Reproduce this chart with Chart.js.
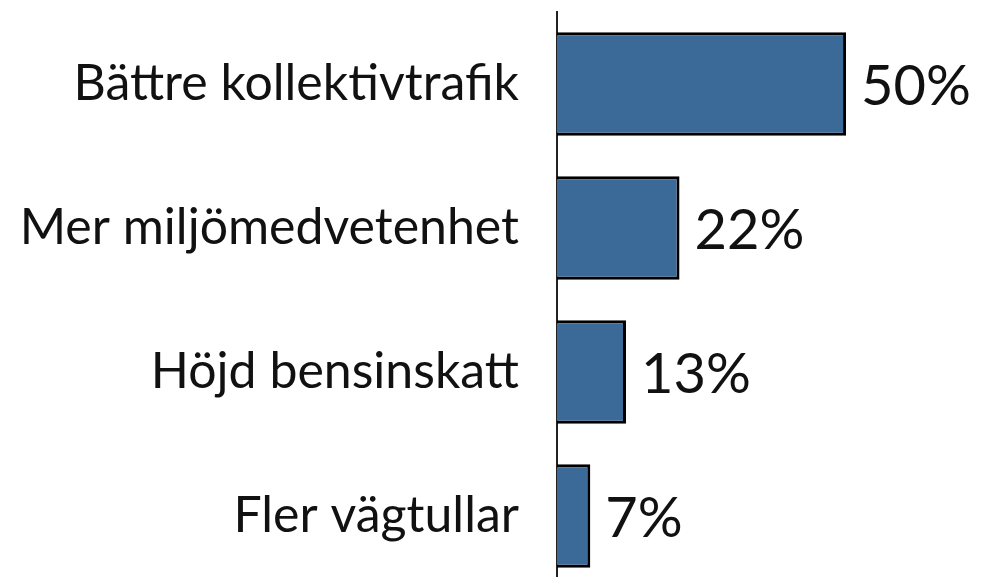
<!DOCTYPE html>
<html>
<head>
<meta charset="utf-8">
<script src="https://cdn.jsdelivr.net/npm/chart.js@4"></script>
<style>
  html, body { margin: 0; padding: 0; background: #fff; overflow: hidden; }
  canvas { display: block; }
</style>
</head>
<body>
<canvas id="chart" width="990" height="590"></canvas>
<script>
const categories = ["Bättre kollektivtrafik", "Mer miljömedvetenhet", "Höjd bensinskatt", "Fler vägtullar"];
const values = [50, 22, 13, 7];
const valueLabels = ["50%", "22%", "13%", "7%"];

const fontFamily = "'Lato', 'Noto Sans', sans-serif";

// draw the percent labels at the end of each bar
const endLabels = {
  id: "endLabels",
  afterDatasetsDraw(chart) {
    const ctx = chart.ctx;
    const meta = chart.getDatasetMeta(0);
    ctx.save();
    ctx.font = "56px " + fontFamily;
    ctx.fillStyle = "#111";
    ctx.textAlign = "left";
    ctx.textBaseline = "middle";
    meta.data.forEach((bar, i) => {
      ctx.fillText(valueLabels[i], bar.x + 15, bar.y + 3);
    });
    ctx.restore();
  }
};

new Chart(document.getElementById("chart"), {
  type: "bar",
  data: {
    labels: categories,
    datasets: [{
      data: values,
      backgroundColor: "#3b6a99",
      borderColor: "#000",
      borderWidth: 3,
      categoryPercentage: 0.72,
      barPercentage: 1
    }]
  },
  options: {
    indexAxis: "y",
    responsive: false,
    animation: false,
    layout: { padding: { top: 12, bottom: 2, left: 0, right: 0 } },
    plugins: { legend: { display: false }, tooltip: { enabled: false } },
    scales: {
      x: {
        display: false,
        min: 1.4,
        max: 74.2
      },
      y: {
        afterFit(scale) {
          scale.width = 557;
          scale.paddingTop = 0;
          scale.paddingBottom = 0;
        },
        grid: { display: false, drawTicks: false },
        border: { display: true, color: "#222", width: 2 },
        ticks: {
          color: "#111",
          padding: 38,
          font: { family: fontFamily, size: 50 }
        }
      }
    }
  },
  plugins: [endLabels]
});
</script>
</body>
</html>
